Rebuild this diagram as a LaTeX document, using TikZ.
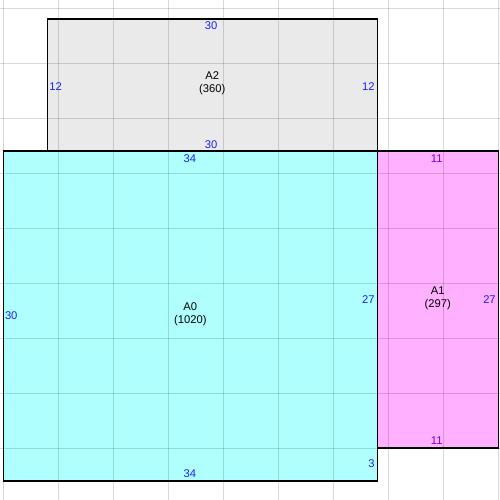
\documentclass[tikz,border=0pt]{standalone}
\usepackage{fontspec}
\setmainfont{Liberation Sans}
\definecolor{cyanfill}{HTML}{B0FFFF}
\definecolor{magfill}{HTML}{FFB0FF}
\definecolor{grayfill}{HTML}{EAEAEA}
\definecolor{edgeblue}{HTML}{2020F0}
\definecolor{edgepurple}{HTML}{7A00E6}
\tikzset{
  room/.style={draw=black, line width=0.55pt},
  gridline/.style={draw=black, draw opacity=0.15, line width=0.45pt},
  roomlabel/.style={font=\fontsize{5.8}{6.7}\selectfont, align=center, inner sep=0pt, text=black},
  edgelabel/.style={font=\fontsize{5.8}{6.7}\selectfont, inner sep=0pt, text=edgeblue},
  edgelabelp/.style={edgelabel, text=edgepurple}
}
\begin{document}
\begin{tikzpicture}[x=0.2cm, y=0.2cm]
\useasboundingbox[fill=white] (-0.3,-1.7273) rectangle (45.1545,43.7273);
% fills
\fill[grayfill] (4,30) rectangle (34,42);
\fill[cyanfill] (0,0) rectangle (34,30);
\fill[magfill] (34,3) rectangle (45,30);
% grid
\foreach \x in {0,5,...,45} \draw[gridline] (\x,-1.7273) -- (\x,43.7273);
\foreach \y in {3,8,...,43} \draw[gridline] (-0.3,\y) -- (45.1545,\y);
% borders
\draw[room] (4,30) rectangle (34,42);
\draw[room] (0,0) rectangle (34,30);
\draw[room] (34,3) rectangle (45,30);
% room labels
\node[roomlabel] (A2) at (19,36.2) {A2\\(360)};
\node[roomlabel] (A0) at (17,15.2) {A0\\(1020)};
\node[roomlabel] (A1) at (39.5,16.6) {A1\\(297)};
% edge labels A2
\node[edgelabel] (a2t) at (18.9,41.4) {30};
\node[edgelabel] (a2b) at (18.9,30.6) {30};
\node[edgelabel, anchor=west] (a2l) at (4.15,35.9) {12};
\node[edgelabel, anchor=east] (a2r) at (33.8,35.9) {12};
% edge labels A0
\node[edgelabel] (a0t) at (16.95,29.35) {34};
\node[edgelabel] (a0b) at (16.95,0.64) {34};
\node[edgelabel, anchor=west] (a0l) at (0.12,15) {30};
\node[edgelabel, anchor=east] (a0r) at (33.8,16.45) {27};
\node[edgelabel, anchor=east] (a0r2) at (33.8,1.6) {3};
% edge labels A1
\node[edgelabelp] (a1t) at (39.4,29.35) {11};
\node[edgelabelp] (a1b) at (39.4,3.64) {11};
\node[edgelabel, anchor=east] (a1r) at (44.8,16.45) {27};
\end{tikzpicture}
\end{document}
